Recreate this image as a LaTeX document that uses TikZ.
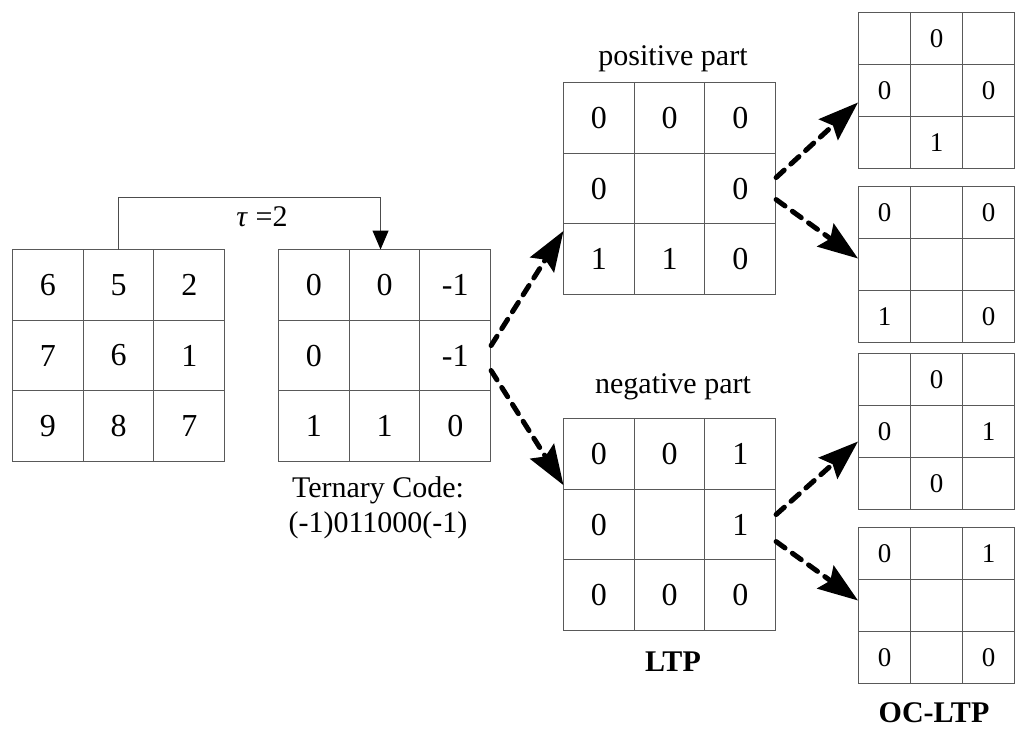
\documentclass[tikz,border=0pt]{standalone}
\usepackage{fontspec}
\setmainfont{Liberation Serif}
\usetikzlibrary{matrix,arrows.meta}
\begin{document}
\begin{tikzpicture}[x=1pt,y=-1pt,
  gridline/.style={draw=black!65, line width=1pt},
  biggrid/.style={matrix of nodes, nodes in empty cells, anchor=north west,
    inner sep=0pt, outer sep=0pt, column sep=-1pt, row sep=-1pt,
    nodes={gridline, minimum size=70.7pt, inner sep=0pt, anchor=center,
      font=\fontsize{32}{38}\selectfont}},
  smallgrid/.style={matrix of nodes, nodes in empty cells, anchor=north west,
    inner sep=0pt, outer sep=0pt, column sep=-1pt, row sep=-1pt,
    nodes={gridline, minimum size=52pt, inner sep=0pt, anchor=center,
      font=\fontsize{27}{32}\selectfont}},
  label/.style={font=\fontsize{30}{36}\selectfont, inner sep=0pt, anchor=base},
  boldlabel/.style={font=\fontsize{30}{36}\selectfont\bfseries, inner sep=0pt, anchor=base},
  dasharrow/.style={line width=5pt, dash pattern=on 11pt off 9pt, line cap=round,
    -{Stealth[length=40pt,width=28pt,inset=6pt,line cap=butt]}},
  bracket/.style={draw=black!70, line width=1pt, -{Triangle[length=19pt,width=16pt,fill=black,color=black]}}
]
\useasboundingbox (0,0) rectangle (1024,734);

\matrix (g1) [biggrid] at (12,249) { 6 & 5 & 2\\ 7 & 6 & 1\\ 9 & 8 & 7\\};
\matrix (g2) [biggrid] at (278,249) { 0 & 0 & -1\\ 0 & & -1\\ 1 & 1 & 0\\};
\matrix (gp) [biggrid] at (563,82) { 0 & 0 & 0\\ 0 & & 0\\ 1 & 1 & 0\\};
\matrix (gn) [biggrid] at (563,418) { 0 & 0 & 1\\ 0 & & 1\\ 0 & 0 & 0\\};

\matrix (ga) [smallgrid] at (858,12) { & 0 & \\ 0 & & 0\\ & 1 & \\};
\matrix (gb) [smallgrid] at (858,186) { 0 & & 0\\ & & \\ 1 & & 0\\};
\matrix (gc) [smallgrid] at (858,353) { & 0 & \\ 0 & & 1\\ & 0 & \\};
\matrix (gd) [smallgrid] at (858,527) { 0 & & 1\\ & & \\ 0 & & 0\\};

\draw[bracket] (g1-1-2.north) -- ++(0,-52) -| ([xshift=-4pt]g2-1-2.north);
\node (tau) [label, anchor=center] at (262,217) {\textit{τ} =2};

\node (pos) [label] at (673,65) {positive part};
\node (neg) [label] at (673,393) {negative part};
\node (tc1) [label] at (378,497) {Ternary Code:};
\node (tc2) [label] at (378,532) {(-1)011000(-1)};
\node (ltp) [boldlabel] at (673,671) {LTP};
\node (ocltp) [boldlabel] at (934,722) {OC-LTP};

\draw[dasharrow] ([yshift=10pt]g2.east) -- ([yshift=-7pt]gp-3-1.north west);
\draw[dasharrow] ([yshift=-15pt]g2.east) -- ([yshift=4pt]gn-2-1.north west);
\draw[dasharrow] ([yshift=11pt]gp.east) -- ([yshift=-12pt]ga.west);
\draw[dasharrow] ([yshift=-11pt]gp.east) -- ([yshift=6pt]gb.west);
\draw[dasharrow] ([yshift=10pt]gn.east) -- ([yshift=-10pt]gc.west);
\draw[dasharrow] ([yshift=-17pt]gn.east) -- ([yshift=5pt]gd.west);
\end{tikzpicture}
\end{document}
